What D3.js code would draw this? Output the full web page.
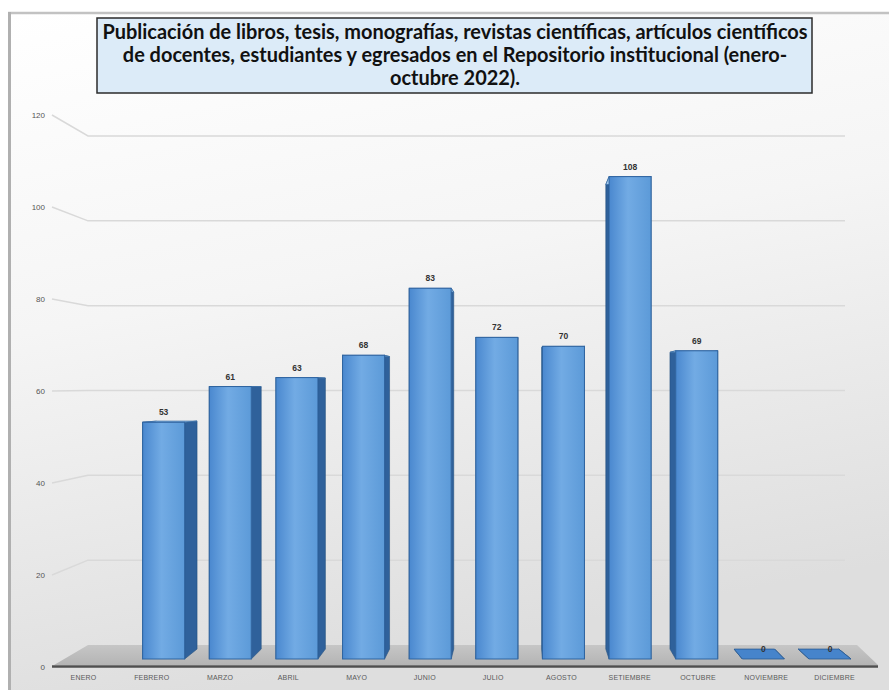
<!DOCTYPE html>
<html>
<head>
<meta charset="utf-8">
<script src="https://cdn.jsdelivr.net/npm/d3@7"></script>
<style>
  html, body { margin: 0; padding: 0; background: #fff; }
  svg { display: block; }
</style>
</head>
<body>
<svg id="chart" width="889" height="690"></svg>
<script>
const months = ["ENERO", "FEBRERO", "MARZO", "ABRIL", "MAYO", "JUNIO", "JULIO",
  "AGOSTO", "SETIEMBRE", "OCTUBRE", "NOVIEMBRE", "DICIEMBRE"];
const publicaciones = [null, 53, 61, 63, 68, 83, 72, 70, 108, 69, 0, 0];
const yTicks = [0, 20, 40, 60, 80, 100, 120];
const titleLines = [
  "Publicación de libros, tesis, monografías, revistas científicas, artículos científicos",
  "de docentes, estudiantes y egresados en el Repositorio institucional (enero-",
  "octubre 2022)."
];

const svg = d3.select("#chart");
const defs = svg.append("defs");

// background of the chart area
const bg = defs.append("linearGradient").attr("id", "bg")
  .attr("x1", 0).attr("y1", 0).attr("x2", 0.25).attr("y2", 1);
bg.append("stop").attr("offset", 0).attr("stop-color", "#ffffff");
bg.append("stop").attr("offset", 0.45).attr("stop-color", "#f5f5f5");
bg.append("stop").attr("offset", 1).attr("stop-color", "#dedede");

const front = defs.append("linearGradient").attr("id", "front");
front.append("stop").attr("offset", 0).attr("stop-color", "#4a88cf");
front.append("stop").attr("offset", 0.45).attr("stop-color", "#72abe4");
front.append("stop").attr("offset", 1).attr("stop-color", "#5c9ad8");

const floorG = defs.append("linearGradient").attr("id", "floor")
  .attr("x1", 0).attr("y1", 0).attr("x2", 0).attr("y2", 1);
floorG.append("stop").attr("offset", 0).attr("stop-color", "#c6c6c6");
floorG.append("stop").attr("offset", 1).attr("stop-color", "#b4b4b4");

// frame
svg.append("rect").attr("x", 10).attr("y", 13).attr("width", 879).attr("height", 677)
  .attr("fill", "url(#bg)");
svg.append("line").attr("x1", 8).attr("x2", 889).attr("y1", 13).attr("y2", 13)
  .attr("stroke", "#c2c2c2").attr("stroke-width", 2.5);
svg.append("line").attr("x1", 9.5).attr("x2", 9.5).attr("y1", 12).attr("y2", 690)
  .attr("stroke", "#b0b0b0").attr("stroke-width", 3);

// scales: label plane, back wall and bar front plane
const yLab = d3.scaleLinear().domain([0, 120]).range([667, 115]);
const yBack = d3.scaleLinear().domain([0, 120]).range([645, 136]);
const yBar = d3.scaleLinear().domain([0, 120]).range([659, 123]);
const xBar = d3.scalePoint().domain(months).range([97, 830]);
const xLab = d3.scalePoint().domain(months).range([83, 834]);

const vx = 520, hy = yBar(60), depth = 0.963, barW = 42;
const back = (x, y) => [vx + (x - vx) * depth, hy + (y - hy) * depth];

// gridlines on the back wall, with the short bend to the side wall
yTicks.filter(d => d > 0).forEach(v => {
  svg.append("path")
    .attr("d", d3.line()([[52, yLab(v)], [88, yBack(v)], [845, yBack(v)]]))
    .attr("fill", "none").attr("stroke", "#d9d9d9").attr("stroke-width", 1.5);
});

// floor
svg.append("path")
  .attr("d", d3.line()([[88, yBack(0)], [857, yBack(0)], [878, 665], [54, 665]]) + "Z")
  .attr("fill", "url(#floor)");
svg.append("line").attr("x1", 52).attr("x2", 878).attr("y1", 666.5).attr("y2", 666.5)
  .attr("stroke", "#4f4f4f").attr("stroke-width", 2.5);

// bars
const data = months.map((m, i) => ({ m, v: publicaciones[i] })).filter(d => d.v !== null);
const bars = svg.append("g").selectAll("g").data(data).join("g");

bars.each(function (d) {
  const g = d3.select(this);
  const x0 = xBar(d.m) - barW / 2, x1 = xBar(d.m) + barW / 2;
  const yt = yBar(d.v), yb = yBar(0);
  const quad = pts => d3.line()(pts) + "Z";
  // sides
  [x0, x1].forEach(x => {
    g.append("path")
      .attr("d", quad([[x, yt], [x, yb], back(x, yb), back(x, yt)]))
      .attr("fill", "#2f619b").attr("stroke", "#24507f").attr("stroke-width", 0.6);
  });
  // top
  g.append("path")
    .attr("d", quad([[x0, yt], [x1, yt], back(x1, yt), back(x0, yt)]))
    .attr("fill", d.v === 0 ? "#4684cb" : "#a7cdf0")
    .attr("stroke", d.v === 0 ? "#2a5b93" : "#3b6ea6").attr("stroke-width", 0.8);
  if (d.v > 0) {
    g.append("rect")
      .attr("x", x0).attr("y", yt).attr("width", barW).attr("height", yb - yt)
      .attr("fill", "url(#front)").attr("stroke", "#2f64a0").attr("stroke-width", 1);
  }
  g.append("text")
    .attr("x", xBar(d.m)).attr("y", yt - 7)
    .attr("text-anchor", "middle")
    .attr("font-family", "Liberation Sans, Arial, sans-serif")
    .attr("font-size", 8.5).attr("font-weight", "bold").attr("fill", "#333")
    .text(d.v);
});

// y axis labels
const yAxis = svg.append("g").attr("transform", "translate(47,0)")
  .call(d3.axisLeft(yLab).tickValues(yTicks).tickSize(0).tickPadding(2));
yAxis.select(".domain").remove();
yAxis.selectAll("text")
  .attr("font-family", "Liberation Sans, Arial, sans-serif")
  .attr("font-size", 8).attr("fill", "#555");

// category labels
const xAxis = svg.append("g").attr("transform", "translate(0,672)")
  .call(d3.axisBottom(xLab).tickSize(0).tickPadding(3));
xAxis.select(".domain").remove();
xAxis.selectAll("text")
  .attr("font-family", "Liberation Sans, Arial, sans-serif")
  .attr("font-size", 7).attr("letter-spacing", 0.2).attr("fill", "#5a5a5a");

// title box
svg.append("rect").attr("x", 97).attr("y", 18).attr("width", 715).attr("height", 75)
  .attr("fill", "#dcebf8").attr("stroke", "#2b2b2b").attr("stroke-width", 1.5);
const title = svg.append("text")
  .attr("text-anchor", "middle")
  .attr("font-family", "Lato, 'Open Sans', sans-serif")
  .attr("font-weight", "bold").attr("font-size", 17).attr("fill", "#111");
title.selectAll("tspan").data(titleLines).join("tspan")
  .attr("x", 455).attr("y", (d, i) => 39 + i * 23)
  .text(d => d);
// fit the first line to the box width
const w = title.select("tspan").node().getComputedTextLength();
title.attr("font-size", 17 * 706 / w);
</script>
</body>
</html>
